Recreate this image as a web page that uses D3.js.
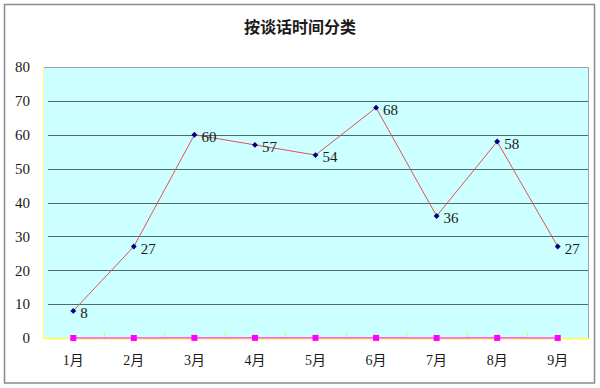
<!DOCTYPE html>
<html lang="zh">
<head>
<meta charset="UTF-8">
<title>按谈话时间分类</title>
<script src="https://d3js.org/d3.v7.min.js"></script>
<style>
  html, body { margin: 0; padding: 0; background: #fff; }
  svg text { font-family: "Liberation Serif", "Noto Sans CJK SC", serif; fill: #1a1a1a; }
</style>
</head>
<body>
<svg id="chart" width="600" height="388"></svg>
<script>
// chart data
const title = "按谈话时间分类";
const months = ["1月", "2月", "3月", "4月", "5月", "6月", "7月", "8月", "9月"];
const counts = [8, 27, 60, 57, 54, 68, 36, 58, 27];
const pinkSeries = [0, 0, 0.03, 0.03, 0.03, 0.03, 0, 0.03, 0];
const orangeSeries = [0, 0, 0, 0, 0, 0, 0, 0, 0];
const yTicks = [0, 10, 20, 30, 40, 50, 60, 70, 80];

const svg = d3.select("#chart");
const plot = { left: 43, right: 588, top: 67, bottom: 338 };

// outer frame
svg.append("rect")
  .attr("x", 4.5).attr("y", 4.5)
  .attr("width", 590).attr("height", 378.5)
  .attr("fill", "#fff")
  .attr("stroke", "#8a8a8a")
  .attr("stroke-width", 1.5);

svg.append("text")
  .attr("x", 300).attr("y", 33)
  .attr("text-anchor", "middle")
  .attr("font-size", 16)
  .attr("font-weight", "bold")
  .text(title);

const x = d3.scaleBand()
  .domain(months)
  .range([plot.left, plot.right]);
const cx = d => x(d) + x.bandwidth() / 2;

const y = d3.scaleLinear()
  .domain([0, 80])
  .range([plot.bottom, plot.top]);

// plot background
svg.append("rect")
  .attr("x", plot.left).attr("y", plot.top)
  .attr("width", plot.right - plot.left)
  .attr("height", plot.bottom - plot.top)
  .attr("fill", "#ccffff");

// grid lines
svg.append("g")
  .selectAll("line")
  .data(yTicks.filter(t => t > 0 && t < 80))
  .join("line")
  .attr("x1", plot.left + 5).attr("x2", plot.right)
  .attr("y1", d => Math.round(y(d)) + 0.5)
  .attr("y2", d => Math.round(y(d)) + 0.5)
  .attr("stroke", "#4f6b6b")
  .attr("stroke-width", 1);

// plot border top/right
svg.append("path")
  .attr("d", `M${plot.left},${plot.top + 0.5}H${plot.right + 0.5}V${plot.bottom}`)
  .attr("fill", "none")
  .attr("stroke", "#a0a0a0")
  .attr("stroke-width", 1);

// y axis labels
const yAxis = d3.axisLeft(y).tickValues(yTicks).tickSize(0).tickPadding(13);
const yg = svg.append("g")
  .attr("transform", `translate(${plot.left},0)`)
  .call(yAxis);
yg.select(".domain").remove();
yg.selectAll("text")
  .attr("font-size", 15)
  .attr("fill", "#1a1a1a")
  .style("font-family", "'Liberation Serif', serif");

// left axis line (yellow)
svg.append("line")
  .attr("x1", plot.left + 0.5).attr("x2", plot.left + 0.5)
  .attr("y1", plot.top).attr("y2", plot.bottom)
  .attr("stroke", "#ffff66")
  .attr("stroke-width", 1);

// x axis (yellow) with inner ticks at category boundaries
svg.append("line")
  .attr("x1", plot.left).attr("x2", plot.right + 1)
  .attr("y1", plot.bottom + 0.5).attr("y2", plot.bottom + 0.5)
  .attr("stroke", "#ffff40")
  .attr("stroke-width", 1.5);
svg.append("g")
  .selectAll("line")
  .data(months.slice(1))
  .join("line")
  .attr("x1", d => Math.round(x(d)) + 0.5)
  .attr("x2", d => Math.round(x(d)) + 0.5)
  .attr("y1", plot.bottom).attr("y2", plot.bottom - 5)
  .attr("stroke", "#e8e860")
  .attr("stroke-width", 1);

const xAxis = d3.axisBottom(x).tickSize(0).tickPadding(17);
const xg = svg.append("g")
  .attr("transform", `translate(0,${plot.bottom})`)
  .call(xAxis);
xg.select(".domain").remove();
xg.selectAll("text")
  .attr("font-size", 14)
  .attr("fill", "#1a1a1a")
  .style("font-family", "'Liberation Serif', 'Noto Sans CJK SC', serif");

// orange zero series
const stepLine = d3.line()
  .x((d, i) => cx(months[i]))
  .curve(d3.curveStep);
svg.append("path")
  .datum(orangeSeries)
  .attr("d", stepLine.y(d => y(d) + 0.5))
  .attr("fill", "none")
  .attr("stroke", "#ffb870")
  .attr("stroke-width", 1.5);

// magenta series
svg.append("path")
  .datum(pinkSeries)
  .attr("d", d3.line()
    .x((d, i) => cx(months[i]))
    .y(d => y(d) - 0.2)
    .curve(d3.curveStep))
  .attr("fill", "none")
  .attr("stroke", "#ff40ff")
  .attr("stroke-width", 1);
svg.append("g")
  .selectAll("rect")
  .data(pinkSeries)
  .join("rect")
  .attr("x", (d, i) => cx(months[i]) - 3)
  .attr("y", d => y(d) - 3)
  .attr("width", 6).attr("height", 6)
  .attr("fill", "#ff00ff");

// main series
const line = d3.line()
  .x((d, i) => cx(months[i]))
  .y(d => y(d));
svg.append("path")
  .datum(counts)
  .attr("d", line)
  .attr("fill", "none")
  .attr("stroke", "#e85050")
  .attr("stroke-width", 1);

svg.append("g")
  .selectAll("path")
  .data(counts)
  .join("path")
  .attr("transform", (d, i) => `translate(${cx(months[i])},${y(d)})`)
  .attr("d", d3.symbol(d3.symbolDiamond2, 22))
  .attr("fill", "#000080");

svg.append("g")
  .selectAll("text")
  .data(counts)
  .join("text")
  .attr("x", (d, i) => cx(months[i]) + 7)
  .attr("y", d => y(d) + 7)
  .attr("font-size", 15)
  .text(d => d);
</script>
</body>
</html>
